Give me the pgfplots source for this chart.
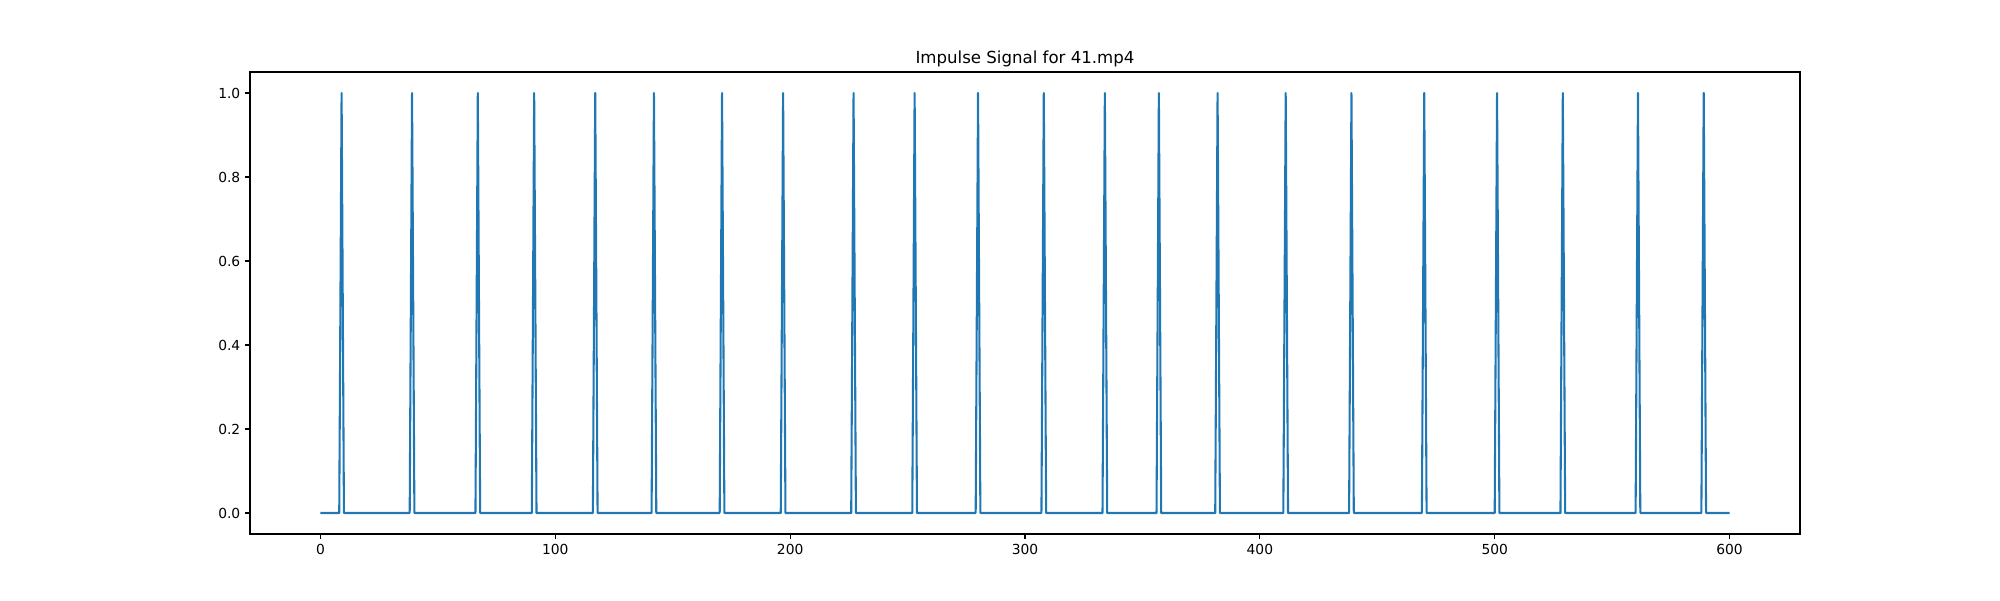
\documentclass[border=0pt]{standalone}
\usepackage{fontspec}
\setmainfont{DejaVu Sans}
\usepackage{pgfplots}
\pgfplotsset{compat=1.18}
\definecolor{tabblue}{HTML}{1F77B4}
\begin{document}
\begin{tikzpicture}
\begin{axis}[
  name=ax,
  scale only axis,
  width=15.5in, height=4.62in,
  xmin=-30, xmax=630,
  ymin=-0.05, ymax=1.05,
  xtick={0,100,200,300,400,500,600},
  ytick={0,0.2,0.4,0.6,0.8,1.0},
  yticklabel style={/pgf/number format/fixed,/pgf/number format/precision=1,/pgf/number format/fixed zerofill},
  /pgf/number format/assume math mode=true,
  tick align=outside,
  major tick length=3.5pt,
  xtick pos=bottom, ytick pos=left,
  axis line style={line width=0.8pt},
  every tick/.style={line width=0.8pt, black},
  tick label style={font=\fontsize{10}{12}\selectfont},
  every axis title shift=0pt,
  title={Impulse Signal for 41.mp4},
  title style={font=\fontsize{12}{14}\selectfont, at={(0.5,1)}, anchor=base, inner sep=0pt, yshift=6pt},
]
\addplot[tabblue, line width=1.5pt, line join=round, mark=none] coordinates {
(0,0) (8,0) (9,1) (10,0) (38,0) (39,1) (40,0) (66,0) (67,1) (68,0)
(90,0) (91,1) (92,0) (116,0) (117,1) (118,0) (141,0) (142,1) (143,0)
(170,0) (171,1) (172,0) (196,0) (197,1) (198,0) (226,0) (227,1) (228,0)
(252,0) (253,1) (254,0) (279,0) (280,1) (281,0) (307,0) (308,1) (309,0)
(333,0) (334,1) (335,0) (356,0) (357,1) (358,0) (381,0) (382,1) (383,0)
(410,0) (411,1) (412,0) (438,0) (439,1) (440,0) (469,0) (470,1) (471,0)
(500,0) (501,1) (502,0) (528,0) (529,1) (530,0) (560,0) (561,1) (562,0)
(588,0) (589,1) (590,0) (600,0)
};
\end{axis}
\path ([shift={(-2.5in,-0.66in)}]ax.south west) rectangle ([shift={(2.0in,0.72in)}]ax.north east);
\end{tikzpicture}
\end{document}
